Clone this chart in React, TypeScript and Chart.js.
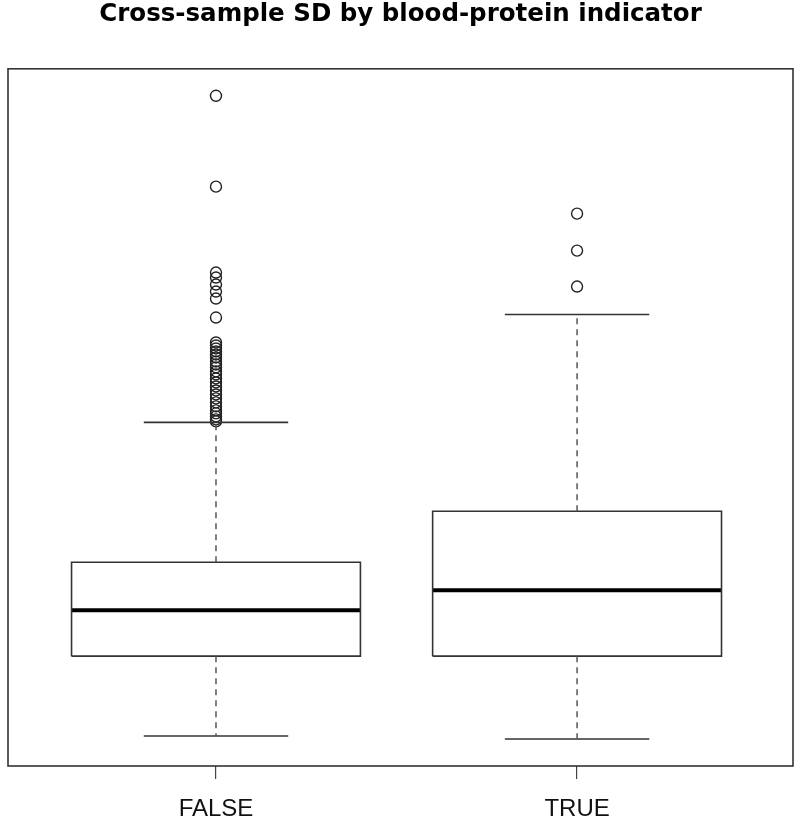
import React, { useEffect, useRef } from "react";
import { Chart, registerables } from "chart.js";
Chart.register(...registerables);

const categories = ["FALSE", "TRUE"];
const lowerWhisker = [0.030, 0.027];
const q1 = [0.110, 0.110];
const median = [0.156, 0.176];
const q3 = [0.204, 0.255];
const upperWhisker = [0.344, 0.452];
const falseOutliers = [
  0.671, 0.580, 0.494, 0.489, 0.482, 0.475, 0.468, 0.449,
  0.424, 0.421, 0.418, 0.415, 0.412, 0.409, 0.405, 0.402, 0.399, 0.395,
  0.392, 0.388, 0.384, 0.380, 0.376, 0.372, 0.368, 0.364, 0.360, 0.356,
  0.353, 0.350, 0.347, 0.345,
];
const trueOutliers = [0.553, 0.516, 0.480];
const outliers = [falseOutliers, trueOutliers];

const TITLE = "Cross-sample SD by blood-protein indicator";
const TITLE_FONT = "'DejaVu Sans', 'Liberation Sans', Arial, sans-serif";
const FONT = "'Liberation Sans', Arial, Helvetica, sans-serif";
const BOX_HALF = 0.4;
const CAP_HALF = 0.2;

export default function App() {
  const ref = useRef<HTMLCanvasElement>(null);
  useEffect(() => {
    document.body.style.margin = "0";
    const datasets: any[] = [];
    const lineBase = { showLine: true, pointRadius: 0, fill: false, tension: 0 };
    categories.forEach((_, i) => {
      const x = i + 1;
      // whiskers (dashed)
      datasets.push({
        ...lineBase,
        data: [{ x, y: q3[i] }, { x, y: upperWhisker[i] }],
        borderColor: "#555",
        borderWidth: 1.5,
        borderDash: [6, 5],
      });
      datasets.push({
        ...lineBase,
        data: [{ x, y: q1[i] }, { x, y: lowerWhisker[i] }],
        borderColor: "#555",
        borderWidth: 1.5,
        borderDash: [6, 5],
      });
      // caps
      datasets.push({
        ...lineBase,
        data: [{ x: x - CAP_HALF, y: upperWhisker[i] }, { x: x + CAP_HALF, y: upperWhisker[i] }],
        borderColor: "#333",
        borderWidth: 1.6,
      });
      datasets.push({
        ...lineBase,
        data: [{ x: x - CAP_HALF, y: lowerWhisker[i] }, { x: x + CAP_HALF, y: lowerWhisker[i] }],
        borderColor: "#333",
        borderWidth: 1.6,
      });
      // box
      datasets.push({
        ...lineBase,
        data: [
          { x: x - BOX_HALF, y: q1[i] },
          { x: x + BOX_HALF, y: q1[i] },
          { x: x + BOX_HALF, y: q3[i] },
          { x: x - BOX_HALF, y: q3[i] },
          { x: x - BOX_HALF, y: q1[i] },
        ],
        borderColor: "#333",
        borderWidth: 1.6,
        backgroundColor: "#fff",
        fill: true,
      });
      // median
      datasets.push({
        ...lineBase,
        data: [{ x: x - BOX_HALF, y: median[i] }, { x: x + BOX_HALF, y: median[i] }],
        borderColor: "#000",
        borderWidth: 4,
      });
      // outliers
      datasets.push({
        showLine: false,
        data: outliers[i].map((y) => ({ x, y })),
        pointStyle: "circle",
        pointRadius: 5.5,
        pointBorderWidth: 1.4,
        pointBorderColor: "#222",
        pointBackgroundColor: "rgba(0,0,0,0)",
      });
    });

    const frame = {
      id: "frame",
      afterDraw(chart: any) {
        const { ctx, chartArea } = chart;
        ctx.save();
        ctx.strokeStyle = "#333";
        ctx.lineWidth = 1.6;
        ctx.strokeRect(chartArea.left, chartArea.top, chartArea.right - chartArea.left, chartArea.bottom - chartArea.top);
        ctx.restore();
      },
    };

    const chart = new Chart(ref.current!, {
      type: "scatter",
      data: { datasets },
      plugins: [frame],
      options: {
        animation: false,
        responsive: false,
        devicePixelRatio: 1,
        layout: { padding: { left: 8, right: 7, top: 0, bottom: -6 } },
        plugins: {
          legend: { display: false },
          tooltip: { enabled: false },
          title: {
            display: true,
            text: TITLE,
            color: "#000",
            font: { family: TITLE_FONT, size: 24.5, weight: "bold", lineHeight: 1.2 },
            padding: { top: 0, bottom: 39.4 },
          },
        },
        scales: {
          x: {
            type: "linear",
            min: 0.424,
            max: 2.598,
            afterBuildTicks: (scale: any) => {
              scale.ticks = categories.map((_, i) => ({ value: i + 1 }));
            },
            ticks: {
              autoSkip: false,
              maxRotation: 0,
              padding: 18,
              color: "#111",
              font: { family: FONT, size: 24, lineHeight: 1.0 },
              callback: (v: any) => categories[Number(v) - 1] ?? "",
            },
            grid: { drawOnChartArea: false, drawTicks: true, tickLength: 13, color: "#444", lineWidth: 1.2 },
            border: { display: false },
          },
          y: {
            display: false,
            min: 0,
            max: 0.698,
          },
        },
      },
    });
    return () => chart.destroy();
  }, []);
  return (
    <div style={{ width: 800, height: 833 }}>
      <canvas ref={ref} width={800} height={833} style={{ display: "block" }} />
    </div>
  );
}
